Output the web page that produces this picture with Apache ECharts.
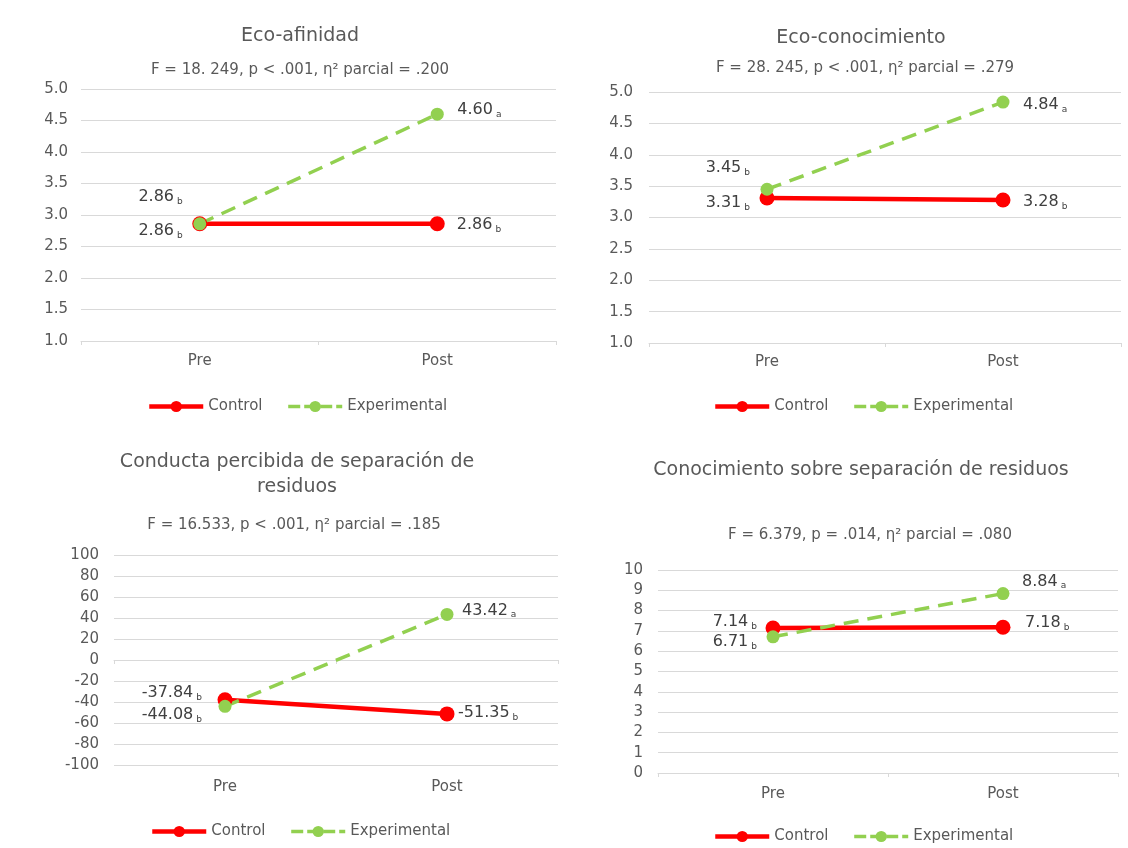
<!DOCTYPE html>
<html>
<head>
<meta charset="utf-8">
<script src="https://cdn.jsdelivr.net/npm/echarts@6/dist/echarts.min.js"></script>
<style>
html,body{margin:0;padding:0;background:#ffffff;}
#chart{width:1128px;height:848px;}
</style>
</head>
<body>
<div id="chart"></div>
<script>
// ---- data ----
const categories = ['Pre', 'Post'];
const seriesNames = ['Control', 'Experimental'];
const panelTitles = [
  'Eco-afinidad',
  'Eco-conocimiento',
  'Conducta percibida de separación de\nresiduos',
  'Conocimiento sobre separación de residuos'
];
const panelSubtitles = [
  'F = 18. 249, p < .001, η² parcial = .200',
  'F = 28. 245, p < .001, η² parcial = .279',
  'F = 16.533, p < .001, η² parcial = .185',
  'F = 6.379, p = .014, η² parcial = .080'
];
const ecoAfinidadControl = [2.86, 2.86];
const ecoAfinidadExperimental = [2.86, 4.60];
const ecoConocimientoControl = [3.31, 3.28];
const ecoConocimientoExperimental = [3.45, 4.84];
const conductaControl = [-37.84, -51.35];
const conductaExperimental = [-44.08, 43.42];
const conocimientoControl = [7.14, 7.18];
const conocimientoExperimental = [6.71, 8.84];
const ecoAfinidadControlSig = ['b', 'b'];
const ecoAfinidadExperimentalSig = ['b', 'a'];
const ecoConocimientoControlSig = ['b', 'b'];
const ecoConocimientoExperimentalSig = ['b', 'a'];
const conductaControlSig = ['b', 'b'];
const conductaExperimentalSig = ['b', 'a'];
const conocimientoControlSig = ['b', 'b'];
const conocimientoExperimentalSig = ['b', 'a'];
const axisMin = [1, 1, -100, 0];
const axisMax = [5, 5, 100, 10];
const axisInterval = [0.5, 0.5, 20, 1];
const axisDecimals = [1, 1, 0, 0];

const controlValues = [ecoAfinidadControl, ecoConocimientoControl, conductaControl, conocimientoControl];
const experimentalValues = [ecoAfinidadExperimental, ecoConocimientoExperimental, conductaExperimental, conocimientoExperimental];
const controlSig = [ecoAfinidadControlSig, ecoConocimientoControlSig, conductaControlSig, conocimientoControlSig];
const experimentalSig = [ecoAfinidadExperimentalSig, ecoConocimientoExperimentalSig, conductaExperimentalSig, conocimientoExperimentalSig];

// ---- layout / style ----
const FONT = 'DejaVu Sans';
const TEXT = '#595959';
const LABEL = '#404040';
const GRIDC = '#d9d9d9';
const RED = '#FF0000';
const GREEN = '#92D050';

const layout = [
  { grid: {left: 81, top: 89, width: 475, height: 252}, title: [300, 36], sub: [300, 70], legend: [147, 399], xm: 13, ym: 13,
    ctl: [['left', 9.5, 7], ['right', 12, 1]], exp: [['left', 10.5, -27], ['right', 13.5, -4]] },
  { grid: {left: 649, top: 92, width: 472, height: 251}, title: [861, 38], sub: [865, 68], legend: [713, 399], xm: 12, ym: 16,
    ctl: [['left', 9.5, 5], ['right', 12.5, 2]], exp: [['left', 10.5, -21], ['right', 13.5, 3]] },
  { grid: {left: 114, top: 555, width: 444, height: 210}, title: [297, 474.5], sub: [294, 525], legend: [150, 824], xm: 15, ym: 15,
    ctl: [['left', 15.5, -7], ['right', 3.5, -1]], exp: [['left', 16.5, 9], ['right', 8.5, -4]] },
  { grid: {left: 658, top: 570, width: 460, height: 203}, title: [861, 470], sub: [870, 535], legend: [713, 829], xm: 14, ym: 15,
    ctl: [['left', 8.5, -6], ['right', 14.5, -4]], exp: [['left', 9.5, 5], ['right', 12.5, -12]] }
];

const rich = {
  v: {fontFamily: FONT, fontSize: 16, color: LABEL},
  s: {fontFamily: FONT, fontSize: 9, color: LABEL, padding: [9, 0, 0, 3]}
};

function makeData(values, sig, cfg) {
  return values.map((v, i) => ({
    value: v,
    label: {
      show: true,
      position: cfg[i][0],
      distance: cfg[i][1],
      offset: [0, cfg[i][2]],
      formatter: () => '{v|' + v.toFixed(2) + '}{s|' + sig[i] + '}',
      rich: rich
    }
  }));
}

const option = {
  animation: false,
  backgroundColor: '#ffffff',
  title: [],
  legend: [],
  grid: [],
  xAxis: [],
  yAxis: [],
  series: []
};

layout.forEach((L, p) => {
  option.title.push({
    text: panelTitles[p], left: L.title[0], top: L.title[1], padding: 0,
    textAlign: 'center', textVerticalAlign: 'middle',
    textStyle: {fontFamily: FONT, fontSize: 19, fontWeight: 'normal', color: TEXT, lineHeight: 25}
  });
  option.title.push({
    text: panelSubtitles[p], left: L.sub[0], top: L.sub[1], padding: 0,
    textAlign: 'center', textVerticalAlign: 'middle',
    textStyle: {fontFamily: FONT, fontSize: 15, fontWeight: 'normal', color: TEXT}
  });
  option.legend.push({
    left: L.legend[0], top: L.legend[1], padding: 0, orient: 'horizontal',
    itemWidth: 54, itemHeight: 14, itemGap: 24, selectedMode: false,
    lineStyle: {width: 'inherit', type: 'inherit'},
    data: [
      {name: seriesNames[0]},
      {name: seriesNames[1], lineStyle: {type: [12, 4]}}
    ],
    textStyle: {fontFamily: FONT, fontSize: 15, color: TEXT}
  });
  option.grid.push(Object.assign({containLabel: false}, L.grid));
  option.xAxis.push({
    type: 'category', gridIndex: p, data: categories, boundaryGap: true,
    axisLine: {show: true, lineStyle: {color: GRIDC, width: 1}},
    axisTick: {show: true, length: 4, lineStyle: {color: GRIDC}},
    axisLabel: {margin: L.xm, fontFamily: FONT, fontSize: 15, color: TEXT},
    splitLine: {show: false}
  });
  option.yAxis.push({
    type: 'value', gridIndex: p, min: axisMin[p], max: axisMax[p], interval: axisInterval[p],
    axisLine: {show: false}, axisTick: {show: false},
    axisLabel: {margin: L.ym, fontFamily: FONT, fontSize: 15, color: TEXT,
      formatter: (v) => v.toFixed(axisDecimals[p])},
    splitLine: {show: true, lineStyle: {color: GRIDC, width: 1}}
  });
  option.series.push({
    name: seriesNames[0], type: 'line', xAxisIndex: p, yAxisIndex: p,
    data: makeData(controlValues[p], controlSig[p], L.ctl),
    symbol: 'circle', symbolSize: 15,
    itemStyle: {color: RED},
    lineStyle: {color: RED, width: 4.5, type: 'solid'}
  });
  option.series.push({
    name: seriesNames[1], type: 'line', xAxisIndex: p, yAxisIndex: p,
    data: makeData(experimentalValues[p], experimentalSig[p], L.exp),
    symbol: 'circle', symbolSize: 13,
    itemStyle: {color: GREEN},
    lineStyle: {color: GREEN, width: 3.5, type: [15, 9]}
  });
});

const chart = echarts.init(document.getElementById('chart'), null, {renderer: 'canvas'});
chart.setOption(option);
</script>
</body>
</html>
